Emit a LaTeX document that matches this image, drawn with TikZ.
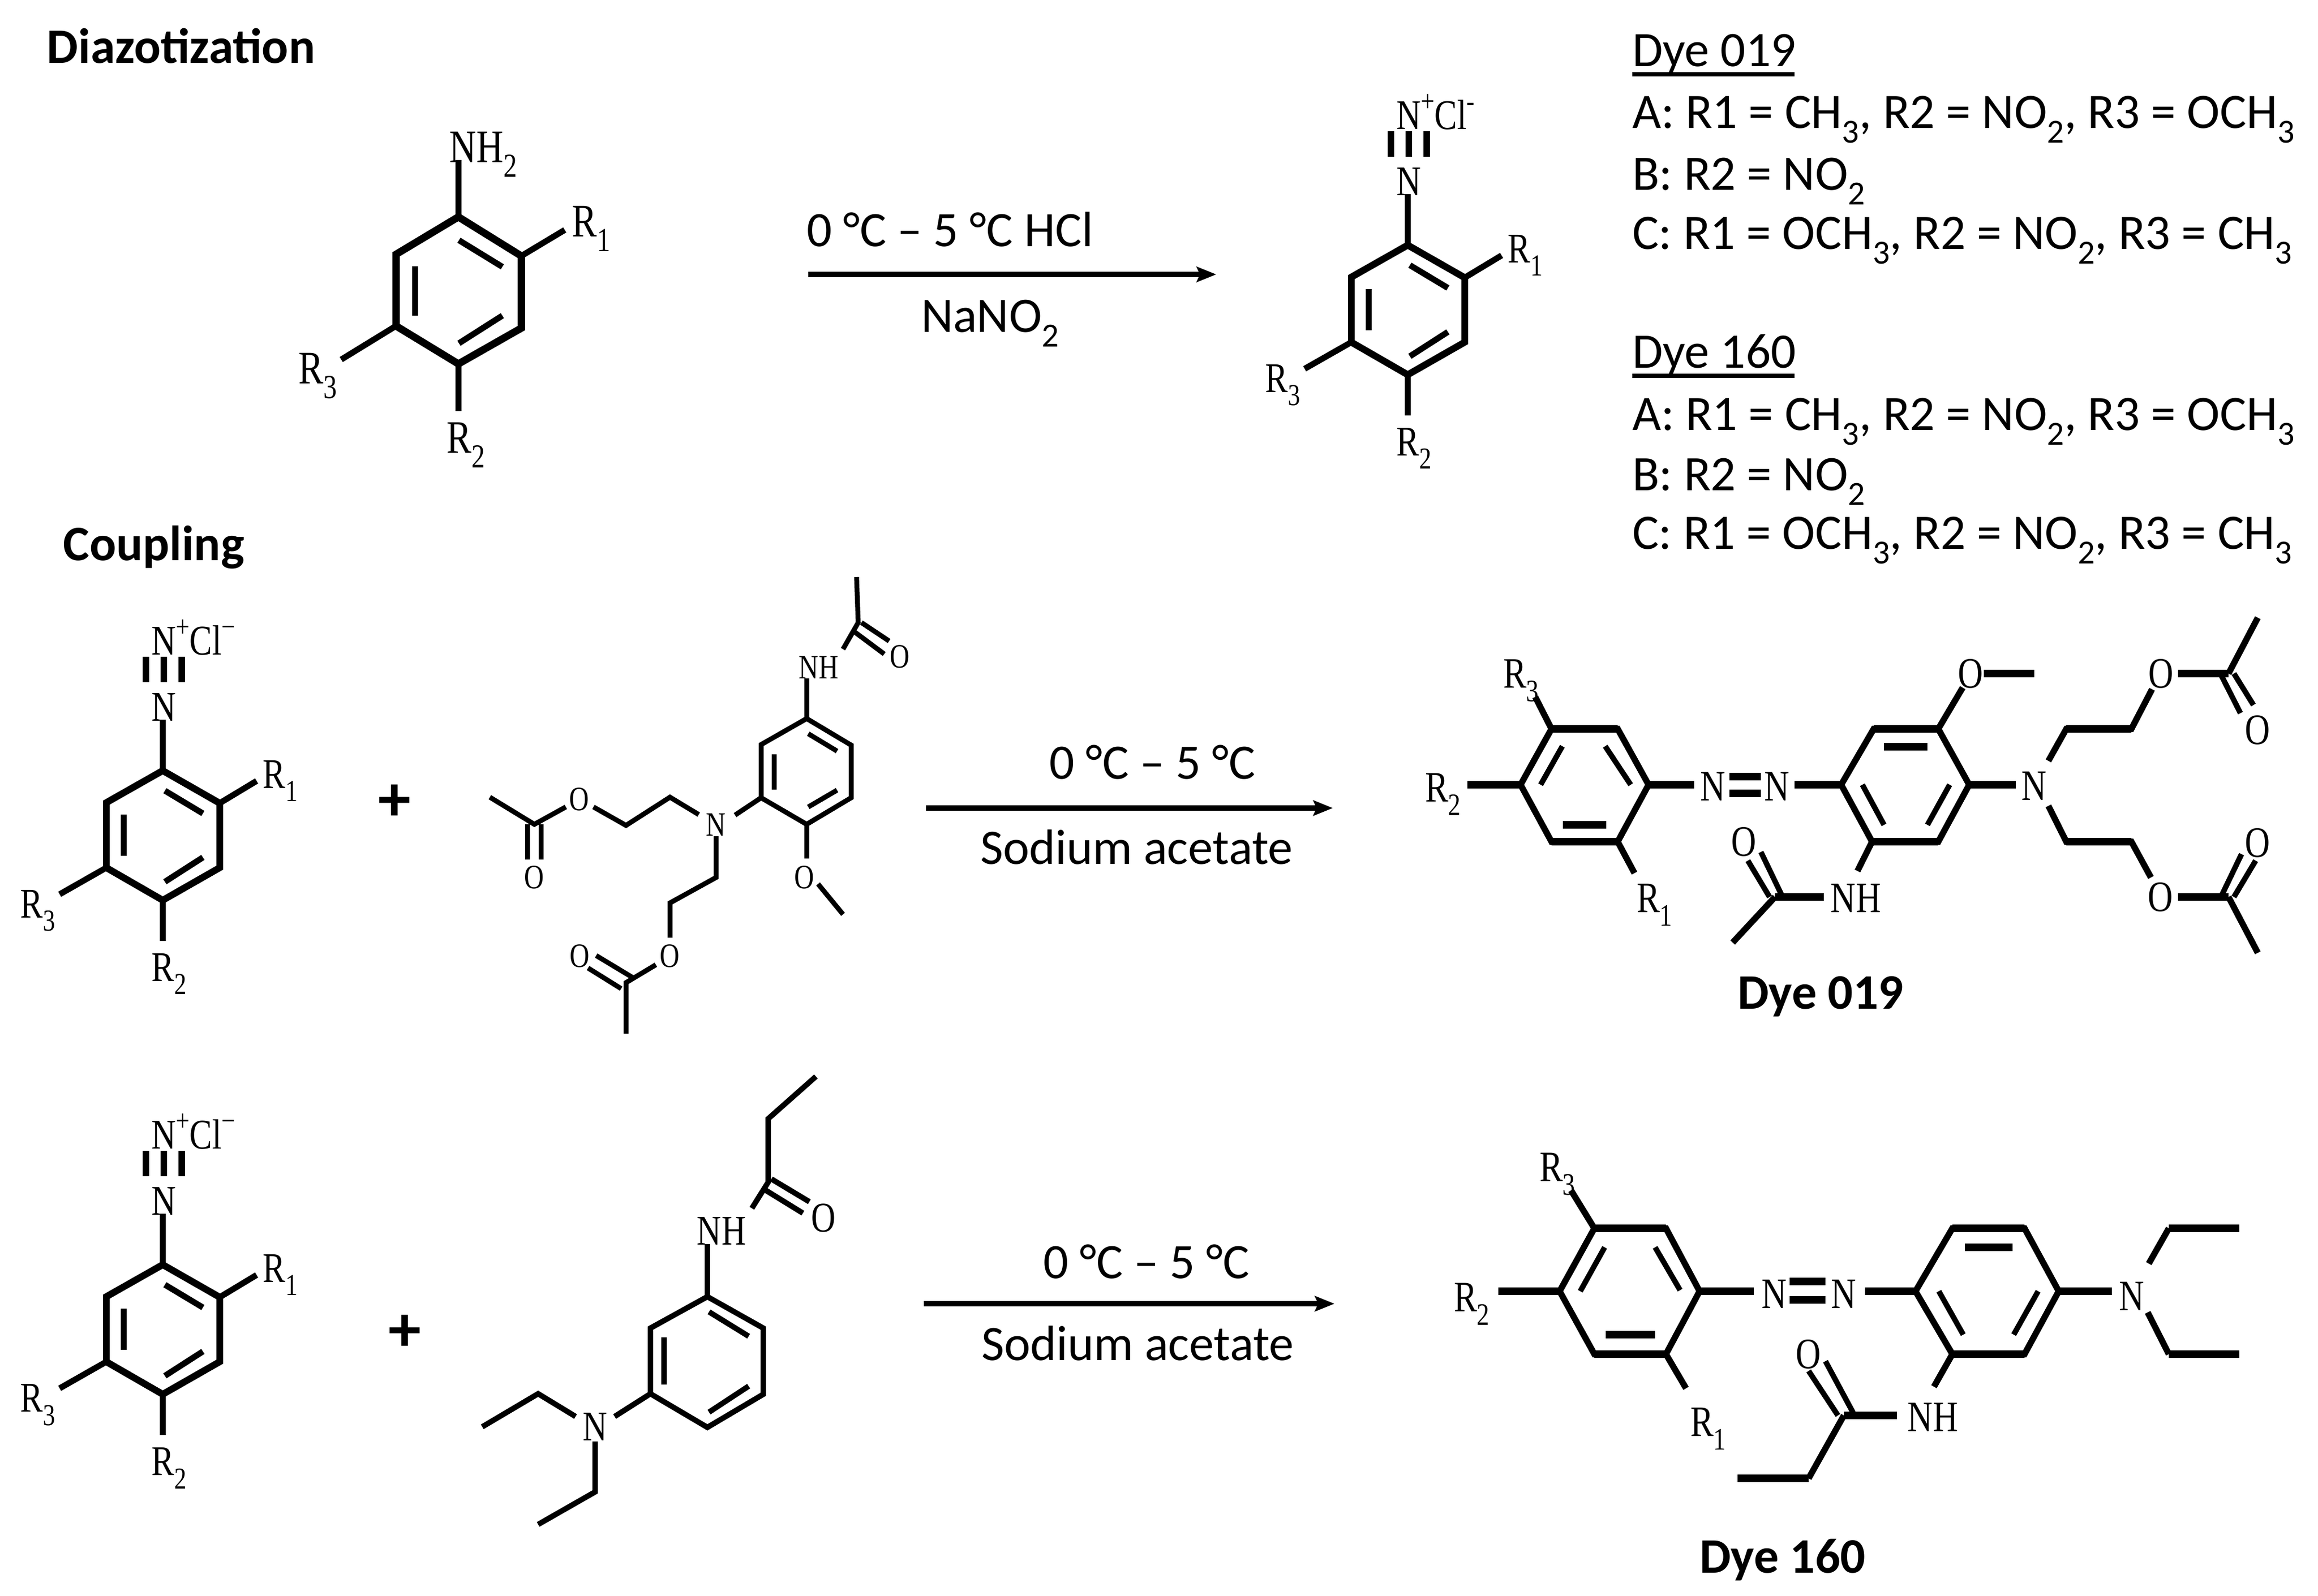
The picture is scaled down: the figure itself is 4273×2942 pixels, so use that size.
\documentclass[tikz,border=0pt]{standalone}
\usepackage{fontspec}
\setmainfont{Carlito}
\newfontfamily\chemfont[FakeStretch=0.8]{Liberation Serif}
\usetikzlibrary{arrows.meta}
\newcommand{\lo}[1]{\raisebox{-0.32em}{\scalebox{0.72}{#1}}}
\newcommand{\hi}[1]{\raisebox{0.42em}{\scalebox{0.72}{#1}}}
\newcommand{\Sb}[1]{\raisebox{-0.3em}{\scalebox{0.68}{#1}}}
\tikzset{
  bond/.style={line width=1.15pt,line join=miter},
  ringa/.style={line width=1.35pt,line join=miter},
  ringb/.style={line width=1.25pt,line join=miter},
  subb/.style={line width=1.1pt},
  inner/.style={line width=1.1pt},
  thinbond/.style={line width=0.9pt,line join=miter},
  midbond/.style={line width=1pt,line join=miter},
  bar/.style={line width=1.4pt},
  rxn/.style={line width=0.95pt,-{Stealth[length=3.6pt,width=2.8pt,inset=0.6pt]}},
  lb0/.style={inner sep=0,outer sep=0,anchor=base},
  lbl/.style={lb0,yshift=-2.5pt,font=\chemfont\fontsize{7.8}{9}\selectfont},
  lblN/.style={lb0,anchor=base west,font=\chemfont\fontsize{7.8}{9}\selectfont},
  lblA/.style={lb0,font=\chemfont\fontsize{8.6}{10}\selectfont,yshift=-2.8pt},
  lblS/.style={lb0,font=\chemfont\fontsize{6.3}{7}\selectfont,yshift=-2pt},
  lblD/.style={lb0,font=\chemfont\fontsize{8}{9}\selectfont,yshift=-2.6pt},
  txt/.style={inner sep=0,outer sep=0,anchor=base west,font=\fontsize{9.15}{11}\selectfont},
  hd/.style={inner sep=0,outer sep=0,anchor=base west,font=\bfseries\fontsize{9.15}{11}\selectfont},
  dyen/.style={inner sep=0,outer sep=0,anchor=base,font=\bfseries\fontsize{9.15}{11}\selectfont},
  plusn/.style={inner sep=0,outer sep=0,font=\bfseries\fontsize{12}{13}\selectfont},
}
% diazonium salt unit, drawn around the coordinates of the top one
\newcommand{\diazo}[3]{%
 \begin{scope}[shift={(#1,#2)}]
  \draw[ringb] (2595,452)--(2700,512)--(2700,631)--(2595,691)--(2491,631)--(2491,511)--cycle;
  \draw[inner] (2599,489)--(2669,531) (2523,533)--(2523,609) (2669,612)--(2599,657);
  \draw[subb] (2595,358)--(2595,452) (2700,512)--(2768,471) (2491,631)--(2405,680) (2595,691)--(2595,766);
  \draw[ringb] (2564,242)--(2564,289) (2597,242)--(2597,289) (2630,242)--(2630,289);
  \node[lbl] (n#3a) at (2597,335) {N};
  \node[lblN] (n#3b) at (2574,238) {N\hi{+}Cl\hi{\ifnum#3=1 -\else −\fi}};
  \node[lbl] (r#3a) at (2812,459) {R\lo{1}};
  \node[lbl] (r#3b) at (2365,698) {R\lo{3}};
  \node[lbl] (r#3c) at (2607,815) {R\lo{2}};
 \end{scope}}
\begin{document}
\begin{tikzpicture}[x=0.1pt,y=-0.1pt]
\useasboundingbox (0,0) rectangle (4273,2942);
% ---- headings
\node[hd] (h1) at (87,116) {Diazotization};
\node[hd] (h2) at (117,1033) {Coupling};
% ---- amine
\draw[ringa] (845,400)--(961,472)--(961,605)--(845,671)--(730,601)--(730,469)--cycle;
\draw[inner] (846,443)--(926,492) (765,491)--(765,582) (926,582)--(846,633);
\draw[subb] (845,295)--(845,400) (961,472)--(1041,424) (730,601)--(629,663) (845,671)--(845,758);
\node[lblA] (am) at (891,271) {NH\lo{2}};
\node[lblA] (ar1) at (1090,408) {R\lo{1}};
\node[lblA] (ar3) at (586,679) {R\lo{3}};
\node[lblA] (ar2) at (859,807) {R\lo{2}};
% ---- first arrow
\coordinate (a1s) at (1490,506);
\coordinate (a1e) at (2242,506);
\draw[rxn] (a1s)--(a1e);
\node[txt] (t1) at (1487,454) {0 °C – 5 °C HCl};
\node[txt] (t2) at (1698,612) {NaNO\Sb{2}};
% ---- diazonium units
\diazo{0}{0}{1}
\diazo{-2295}{969}{2}
\diazo{-2295}{1880}{3}
% ---- legend
\node[txt] (l0) at (3009,122) {Dye 019};
\draw[line width=0.75pt] (3009,137)--(3308,137);
\node[txt] (l1) at (3009,236) {A: R1 = CH\Sb{3}, R2 = NO\Sb{2}, R3 = OCH\Sb{3}};
\node[txt] (l2) at (3009,350) {B: R2 = NO\Sb{2}};
\node[txt] (l3) at (3009,459) {C: R1 = OCH\Sb{3}, R2 = NO\Sb{2}, R3 = CH\Sb{3}};
\node[txt] (l4) at (3009,678) {Dye 160};
\draw[line width=0.75pt] (3009,693)--(3308,693);
\node[txt] (l5) at (3009,793) {A: R1 = CH\Sb{3}, R2 = NO\Sb{2}, R3 = OCH\Sb{3}};
\node[txt] (l6) at (3009,904) {B: R2 = NO\Sb{2}};
\node[txt] (l7) at (3009,1012) {C: R1 = OCH\Sb{3}, R2 = NO\Sb{2}, R3 = CH\Sb{3}};
% ---- plus signs
\node[plusn] (p1) at (727,1480) {+};
\node[plusn] (p2) at (746,2458) {+};
% ---- coupler 1
\draw[thinbond] (1487,1325)--(1569,1374)--(1569,1471)--(1487,1520)--(1403,1471)--(1403,1373)--cycle;
\draw[thinbond] (1490,1353)--(1543,1385) (1427,1391)--(1427,1456) (1543,1457)--(1490,1488);
\draw[thinbond] (1487,1325)--(1487,1251) (1554,1197)--(1582,1148)--(1579,1064);
\draw[thinbond] (1588,1148)--(1639,1182) (1571,1162)--(1630,1206);
\node[lblS] (c1nh) at (1509,1231) {NH};
\node[lblS] (c1o1) at (1659,1211) {O};
\node[lblS] (c1n) at (1320,1521) {N};
\draw[thinbond] (1355,1503)--(1403,1471);
\draw[thinbond] (1487,1520)--(1487,1583) (1508,1630)--(1554,1686);
\node[lblS] (c1o2) at (1483,1618) {O};
\draw[thinbond] (1288,1502)--(1235,1470)--(1154,1522)--(1094,1488);
\node[lblS] (c1o3) at (1068,1474) {O};
\draw[thinbond] (1043,1488)--(985,1520)--(903,1470);
\draw[thinbond] (972,1520)--(972,1585) (997,1520)--(997,1585);
\node[lblS] (c1o4) at (985,1618) {O};
\draw[thinbond] (1320,1542)--(1320,1618)--(1235,1665)--(1235,1729);
\node[lblS] (c1o5) at (1235,1763) {O};
\draw[thinbond] (1209,1779)--(1154,1812)--(1154,1906);
\draw[thinbond] (1099,1762)--(1167,1803) (1084,1785)--(1145,1823);
\node[lblS] (c1o6) at (1069,1763) {O};
% ---- second arrow
\coordinate (a2s) at (1707,1490);
\coordinate (a2e) at (2457,1490);
\draw[rxn] (a2s)--(a2e);
\node[txt] (t3) at (1934,1436) {0 °C – 5 °C};
\node[txt] (t4) at (1807,1593) {Sodium acetate};
% ---- dye 019
\draw[bond] (2860,1344)--(2982,1344)--(3039,1447)--(2982,1552)--(2860,1552)--(2803,1447)--cycle;
\draw[bar] (2860,1344)--(2982,1344) (2860,1552)--(2982,1552);
\draw[midbond] (2880,1376)--(2840,1447) (2959,1376)--(3006,1447);
\draw[bar] (2881,1521)--(2961,1521);
\draw[bond] (2860,1344)--(2830,1285) (2982,1552)--(3013,1610);
\draw[bar] (2803,1447)--(2705,1447) (3039,1447)--(3123,1447);
\node[lblD] (d1r3) at (2804,1242) {R\lo{3}};
\node[lblD] (d1r2) at (2660,1452) {R\lo{2}};
\node[lblD] (d1r1) at (3050,1656) {R\lo{1}};
\node[lblD] (d1n1) at (3158,1450) {N};
\node[lblD] (d1n2) at (3276,1450) {N};
\draw[bar] (3188,1432)--(3246,1432) (3188,1463)--(3246,1463);
\draw[bar] (3308,1447)--(3394,1447);
\draw[bond] (3394,1447)--(3454,1344)--(3573,1344)--(3630,1447)--(3573,1552)--(3451,1552)--cycle;
\draw[bar] (3454,1344)--(3573,1344) (3451,1552)--(3573,1552);
\draw[bar] (3473,1377)--(3553,1377);
\draw[midbond] (3433,1447)--(3473,1521) (3594,1447)--(3553,1521);
\draw[bond] (3573,1344)--(3618,1268);
\node[lblD] (d1o1) at (3633,1242) {O};
\draw[bar] (3657,1242)--(3750,1242);
\node[lblD] (d1n3) at (3750,1449) {N};
\draw[bar] (3630,1447)--(3716,1447);
\draw[bond] (3776,1403)--(3809,1344)--(3929,1344)--(3967,1271);
\draw[bar] (3809,1344)--(3929,1344);
\node[lblD] (d1o2) at (3984,1242) {O};
\draw[bar] (4015,1242)--(4108,1242);
\draw[bond] (4108,1242)--(4162,1139);
\draw[midbond] (4093,1242)--(4130,1315) (4118,1242)--(4154,1300);
\node[lblD] (d1o3) at (4162,1346) {O};
\draw[bond] (3776,1486)--(3809,1552)--(3929,1552)--(3965,1618);
\draw[bar] (3809,1552)--(3929,1552);
\node[lblD] (d1o4) at (3983,1654) {O};
\draw[bar] (4015,1654)--(4108,1654);
\draw[bond] (4108,1654)--(4162,1757);
\draw[midbond] (4094,1654)--(4132,1575) (4118,1654)--(4158,1587);
\node[lblD] (d1o5) at (4162,1554) {O};
\draw[bond] (3451,1552)--(3424,1606);
\node[lblD] (d1nh) at (3421,1656) {NH};
\draw[bar] (3362,1654)--(3272,1654);
\draw[bond] (3272,1654)--(3194,1738);
\draw[midbond] (3286,1654)--(3246,1571) (3262,1654)--(3222,1587);
\node[lblD] (d1o6) at (3215,1552) {O};
\node[dyen] (d1) at (3356,1860) {Dye 019};
% ---- coupler 2
\draw[midbond] (1304,2391)--(1407,2449)--(1407,2571)--(1304,2632)--(1199,2570)--(1199,2449)--cycle;
\draw[midbond] (1307,2419)--(1380,2464) (1224,2466)--(1224,2553) (1380,2556)--(1307,2604);
\draw[midbond] (1304,2391)--(1304,2294);
\node[lbl] (c2nh) at (1330,2270) {NH};
\draw[midbond] (1386,2228)--(1416,2180)--(1416,2063)--(1504,1985);
\draw[midbond] (1422,2174)--(1492,2216) (1407,2192)--(1480,2237);
\node[lbl] (c2o) at (1518,2246) {O};
\node[lbl] (c2n) at (1097,2631) {N};
\draw[midbond] (1133,2612)--(1199,2570);
\draw[midbond] (1061,2612)--(992,2570)--(889,2631);
\draw[midbond] (1097,2658)--(1097,2751)--(992,2811);
% ---- third arrow
\coordinate (a3s) at (1703,2404);
\coordinate (a3e) at (2460,2404);
\draw[rxn] (a3s)--(a3e);
\node[txt] (t5) at (1923,2357) {0 °C – 5 °C};
\node[txt] (t6) at (1809,2508) {Sodium acetate};
% ---- dye 160
\draw[bond] (2939,2265)--(3071,2265)--(3133,2381)--(3071,2497)--(2939,2497)--(2875,2381)--cycle;
\draw[bar] (2939,2265)--(3071,2265) (2939,2497)--(3071,2497);
\draw[midbond] (2958,2300)--(2913,2381) (3051,2300)--(3097,2379);
\draw[bar] (2960,2461)--(3051,2461);
\draw[bond] (2939,2265)--(2896,2195) (3071,2497)--(3108,2560);
\draw[bar] (2875,2381)--(2762,2381) (3133,2381)--(3233,2381);
\node[lblD] (d2r3) at (2871,2152) {R\lo{3}};
\node[lblD] (d2r2) at (2713,2392) {R\lo{2}};
\node[lblD] (d2r1) at (3149,2622) {R\lo{1}};
\node[lblD] (d2n1) at (3271,2386) {N};
\node[lblD] (d2n2) at (3399,2386) {N};
\draw[bar] (3299,2363)--(3365,2363) (3299,2397)--(3365,2397);
\draw[bar] (3438,2381)--(3531,2381);
\draw[bond] (3531,2381)--(3599,2265)--(3732,2265)--(3795,2381)--(3732,2497)--(3599,2497)--cycle;
\draw[bar] (3599,2265)--(3732,2265) (3599,2497)--(3732,2497);
\draw[bar] (3622,2300)--(3710,2300);
\draw[midbond] (3574,2381)--(3619,2461) (3757,2381)--(3712,2461);
\draw[bar] (3795,2381)--(3893,2381);
\node[lblD] (d2n3) at (3930,2390) {N};
\draw[bond] (3961,2330)--(3998,2265);
\draw[bar] (3998,2265)--(4128,2265);
\draw[bond] (3959,2420)--(3998,2497);
\draw[bar] (3998,2497)--(4128,2497);
\draw[bond] (3599,2497)--(3565,2557);
\node[lblD] (d2nh) at (3563,2613) {NH};
\draw[bar] (3497,2610)--(3399,2610);
\draw[bond] (3399,2610)--(3334,2726);
\draw[bar] (3334,2726)--(3203,2726);
\draw[midbond] (3416,2605)--(3365,2510) (3388,2610)--(3334,2528);
\node[lblD] (d2o) at (3334,2497) {O};
\node[dyen] (d2) at (3286,2900) {Dye 160};
\end{tikzpicture}
\end{document}
